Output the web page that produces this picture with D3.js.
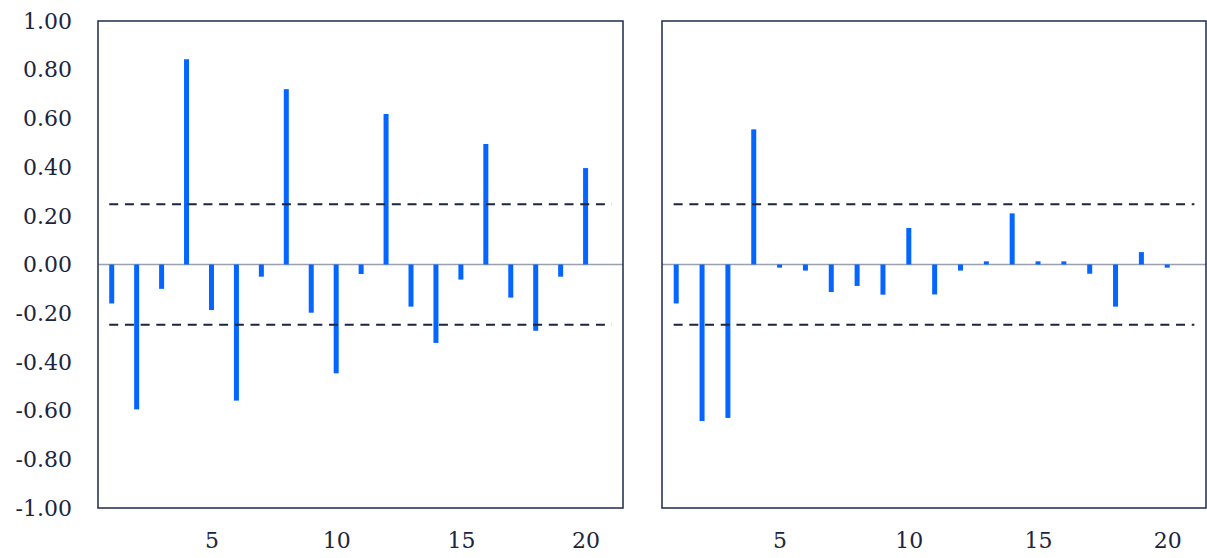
<!DOCTYPE html>
<html>
<head>
<meta charset="utf-8">
<script src="https://cdn.jsdelivr.net/npm/d3@7"></script>
<style>
  body { margin: 0; background: #fff; }
  text { font-family: "DejaVu Serif", "Liberation Serif", serif; fill: #1b2540; }
</style>
</head>
<body>
<script>
// DATA
const lags = d3.range(1, 21);
const acfValues = [-0.16, -0.595, -0.10, 0.843, -0.187, -0.559, -0.05, 0.72, -0.198, -0.447,
                   -0.039, 0.618, -0.173, -0.322, -0.062, 0.495, -0.136, -0.272, -0.05, 0.396];
const pacfValues = [-0.16, -0.643, -0.63, 0.555, -0.013, -0.025, -0.113, -0.088, -0.124, 0.15,
                    -0.123, -0.025, 0.013, 0.21, 0.013, 0.013, -0.038, -0.173, 0.051, -0.013];
const confBound = 0.247;
const yTicks = [1, 0.8, 0.6, 0.4, 0.2, 0, -0.2, -0.4, -0.6, -0.8, -1];
const xTicks = [5, 10, 15, 20];

// CANVAS
const width = 1207, height = 558;
const svg = d3.select("body").append("svg")
    .attr("width", width)
    .attr("height", height);

const plotTop = 21, plotBottom = 508;
const y = d3.scaleLinear().domain([-1, 1]).range([plotBottom, plotTop]);

const panels = [
    {left: 98, right: 623, values: acfValues, yLabels: true},
    {left: 662, right: 1206, values: pacfValues, yLabels: false}
];

panels.forEach(p => {
    const x = d3.scaleLinear().domain([0.45, 21.5]).range([p.left, p.right]);
    const g = svg.append("g");

    // ZERO LINE
    g.append("line")
        .attr("x1", p.left).attr("x2", p.right)
        .attr("y1", y(0)).attr("y2", y(0))
        .attr("stroke", "#9aa1ae")
        .attr("stroke-width", 1.5);

    // BARS
    const barW = 5;
    g.selectAll("rect.bar")
        .data(p.values)
        .enter()
        .append("rect")
        .attr("class", "bar")
        .attr("x", (d, i) => x(lags[i]) - barW / 2)
        .attr("y", d => y(Math.max(0, d)))
        .attr("width", barW)
        .attr("height", d => Math.abs(y(d) - y(0)))
        .attr("fill", "#0466ff");

    // CONFIDENCE BOUNDS
    [confBound, -confBound].forEach(c => {
        g.append("line")
            .attr("x1", x(0.9)).attr("x2", x(21.05))
            .attr("y1", y(c)).attr("y2", y(c))
            .attr("stroke", "#1b2540")
            .attr("stroke-width", 2)
            .attr("stroke-dasharray", "9,6.7");
    });

    // FRAME
    g.append("rect")
        .attr("x", p.left).attr("y", plotTop)
        .attr("width", p.right - p.left)
        .attr("height", plotBottom - plotTop)
        .attr("fill", "none")
        .attr("stroke", "#1b2a4e")
        .attr("stroke-width", 1.5);

    // X AXIS LABELS
    const xAxis = d3.axisBottom(x).tickValues(xTicks).tickSize(0).tickPadding(0);
    const ax = g.append("g")
        .attr("transform", `translate(0, ${plotBottom})`)
        .call(xAxis);
    ax.select(".domain").remove();
    ax.selectAll("text")
        .attr("y", 40)
        .attr("dy", 0)
        .style("font-size", "22px")
        .style("font-family", "DejaVu Serif, serif")
        .attr("fill", "#1b2540");

    // Y AXIS LABELS
    if (p.yLabels) {
        const yAxis = d3.axisLeft(y).tickValues(yTicks).tickSize(0).tickPadding(0)
            .tickFormat(d3.format(".2f"));
        const ay = g.append("g")
            .attr("transform", `translate(${p.left}, 0)`)
            .call(yAxis);
        ay.select(".domain").remove();
        ay.selectAll("text")
            .attr("x", -26)
            .attr("dy", "0.33em")
            .text(d => d3.format(".2f")(d).replace("−", "-"))
            .style("font-size", "22px")
            .style("font-family", "DejaVu Serif, serif")
            .attr("fill", "#1b2540");
    }
});
</script>
</body>
</html>
